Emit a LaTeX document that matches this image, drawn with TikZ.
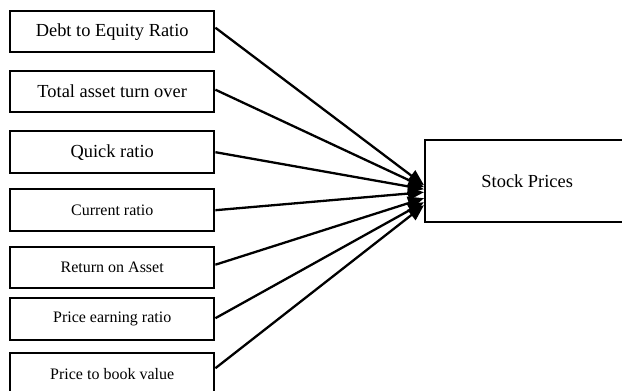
\documentclass[tikz,border=0pt]{standalone}
\usepackage{fontspec}
\setmainfont{Liberation Serif}
\usetikzlibrary{arrows.meta}
\begin{document}
\begin{tikzpicture}[x=1pt,y=-1pt,
  box/.style={draw,line width=2.4pt,minimum width=204pt,inner sep=0pt,anchor=north west},
  bigtxt/.style={font=\fontsize{18.4}{22}\selectfont},
  smalltxt/.style={font=\fontsize{16}{19}\selectfont},
  arr/.style={line width=2.3pt,-{Triangle[length=16pt,width=13pt]}}]
\clip (0,0) rectangle (622,391);
\fill[white] (0,0) rectangle (622,391);
\node[box,bigtxt,minimum height=41pt] (b1) at (9,10) {Debt to Equity Ratio};
\node[box,bigtxt,minimum height=41pt] (b2) at (9,70) {Total asset turn over};
\node[box,bigtxt,minimum height=42pt] (b3) at (9,130) {Quick ratio};
\node[box,smalltxt,minimum height=42pt] (b4) at (9,188) {Current ratio};
\node[box,smalltxt,minimum height=41pt] (b5) at (9,246) {Return on Asset};
\node[box,smalltxt,minimum height=42pt] (b6) at (9,297) {Price earning ratio};
\node[box,smalltxt,minimum height=42pt] (b7) at (9,352) {Price to book value};
\node[draw,line width=2.4pt,bigtxt,minimum width=204pt,minimum height=82pt,inner sep=0pt,anchor=north west] (sp) at (424,139) {Stock Prices};
\draw[arr] ([yshift=4pt]b1.east) -- ([yshift=-4pt]sp.west);
\draw[arr] ([yshift=2pt]b2.east) -- ([yshift=-6pt]sp.west);
\draw[arr] (b3.east) -- ([yshift=-8pt]sp.west);
\draw[arr] (b4.east) -- ([yshift=-11pt]sp.west);
\draw[arr] ([yshift=3pt]b5.east) -- ([yshift=-17pt]sp.west);
\draw[arr] ([yshift=1pt]b6.east) -- ([yshift=-21pt]sp.west);
\draw[arr] ([yshift=6pt]b7.east) -- ([yshift=-24pt]sp.west);
\end{tikzpicture}
\end{document}
